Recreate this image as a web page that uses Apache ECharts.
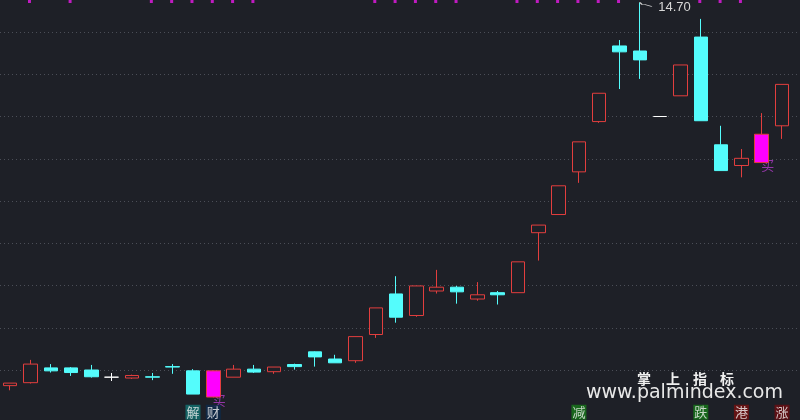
<!DOCTYPE html>
<html><head><meta charset="utf-8">
<script src="https://cdn.jsdelivr.net/npm/echarts@6/dist/echarts.min.js"></script>
<style>html,body{margin:0;padding:0;background:#1e2027;}#c{width:800px;height:420px;}</style>
</head><body><div id="c"></div>
<script>
const categories = ['1','2','3','4','5','6','7','8','9','10','11','12','13','14','15','16','17','18','19','20',
  '21','22','23','24','25','26','27','28','29','30','31','32','33','34','35','36','37','38','39'];
const opens  = [5.63,5.70,6.05,6.05,6.00,5.83,5.81,5.84,6.08,5.98,5.36,5.83,6.02,5.96,6.13,6.43,6.26,6.22,6.84,7.80,
  7.29,7.87,7.96,7.68,7.83,7.83,9.25,9.68,10.69,11.88,13.67,13.55,12.00,12.49,13.88,11.33,10.84,10.91,11.78];
const closes = [5.69,6.14,5.98,5.94,5.84,5.83,5.87,5.83,6.07,5.43,5.98,6.02,5.95,6.07,6.08,6.31,6.17,6.79,7.47,7.25,
  7.99,7.96,7.85,7.78,7.78,8.56,9.43,10.36,11.40,12.55,13.53,13.34,12.00,13.22,11.90,10.72,11.01,11.58,12.76];
const lows   = [5.52,5.68,5.94,5.86,5.82,5.74,5.79,5.76,5.91,5.43,5.35,5.83,5.93,5.91,6.01,6.08,6.17,6.17,6.76,7.12,
  7.26,7.81,7.57,7.64,7.55,7.83,8.59,9.68,10.43,11.85,12.65,12.89,12.00,12.49,11.90,10.72,10.56,10.91,11.47];
const highs  = [5.69,6.24,6.14,6.07,6.12,5.93,5.89,5.93,6.14,6.02,5.99,6.12,6.12,6.07,6.15,6.44,6.36,6.79,7.47,8.22,
  7.99,8.37,7.99,8.08,7.87,8.56,9.43,10.36,11.40,12.55,13.81,14.70,12.00,13.22,14.31,11.78,11.23,12.08,12.76];
const whiteDoji = [5, 32];
const buySignals = [10, 37];
const topMarkers = [1,3,7,8,9,10,11,12,18,19,20,21,22,25,26,27,28,29,30,34,35,36];
const tagIndex = [9, 10, 28, 34, 36, 38];
const tagText = ['解','财','减','跌','港','涨'];
const gridPrices = [6, 14];

const Y_MIN = 4.8166, Y_MAX = 14.7574;
const RED = '#e23e3e', CYAN = '#54fcfc', BG = '#1e2027', MAG = '#ff00ff';
const tagBg = {'解':'#127373','财':'#0d2a4c','减':'#17781a','跌':'#17781a','港':'#761010','涨':'#6c0c12'};

const candleData = categories.map((c, i) => {
  const item = { value: [opens[i], closes[i], lows[i], highs[i]] };
  if (whiteDoji.includes(i)) {
    item.itemStyle = { color: '#ffffff', color0: '#ffffff', borderColor: '#ffffff', borderColor0: '#ffffff', borderColorDoji: '#ffffff' };
  } else if (buySignals.includes(i)) {
    item.itemStyle = { color: MAG, color0: MAG, borderColor: RED, borderColor0: RED, borderColorDoji: RED };
  }
  return item;
});

const chart = echarts.init(document.getElementById('c'), null, { renderer: 'canvas' });
chart.setOption({
  backgroundColor: BG,
  animation: false,
  grid: [
    { left: -0.7, width: 792.9, top: 0, bottom: 0 },
    { left: 0, right: 0, top: 32, bottom: 50 }
  ],
  xAxis: [
    { type: 'category', data: categories, gridIndex: 0, show: false, boundaryGap: true },
    { type: 'value', gridIndex: 1, min: 0, max: 1, show: false }
  ],
  yAxis: [
    { type: 'value', gridIndex: 0, min: Y_MIN, max: Y_MAX, show: false, splitLine: { show: false } },
    { type: 'value', gridIndex: 1, min: gridPrices[0], max: gridPrices[1], interval: 1,
      axisLine: { show: false }, axisTick: { show: false }, axisLabel: { show: false },
      splitLine: { show: true, lineStyle: { color: '#4b4e57', width: 1, type: [1, 3] } } }
  ],
  series: [
    { type: 'line', xAxisIndex: 1, yAxisIndex: 1, data: [], silent: true },
    {
      type: 'scatter', xAxisIndex: 0, yAxisIndex: 0, z: 1, silent: true,
      data: buySignals.map(i => [i, lows[i]]),
      symbolSize: 1, itemStyle: { color: 'transparent' },
      label: { show: true, position: 'inside', formatter: '买', offset: [6, 3],
        color: '#b23cc8', fontSize: 13, fontFamily: 'Noto Sans CJK SC' }
    },
    {
      type: 'candlestick', xAxisIndex: 0, yAxisIndex: 0, z: 3,
      barWidth: 14, clip: false,
      data: candleData,
      itemStyle: { color: BG, color0: CYAN, borderColor: RED, borderColor0: CYAN, borderWidth: 1 },
      markPoint: {
        silent: true,
        data: [{ type: 'max', valueDim: 'highest' }],
        symbol: 'path://M0 0 L2 2 L5 2 L12 4',
        symbolSize: [12, 4], symbolKeepAspect: false, symbolOffset: [6, 2],
        itemStyle: { color: 'none', borderColor: '#d0d0d0', borderWidth: 1 },
        label: { show: true, position: 'right', distance: 2, offset: [0, 3],
          formatter: p => Number(p.value).toFixed(2), color: '#d8d8d8', fontSize: 13, fontFamily: 'Liberation Sans' }
      }
    },
    {
      type: 'scatter', xAxisIndex: 0, yAxisIndex: 0, z: 4, silent: true, clip: false,
      data: topMarkers.map(i => [i, Y_MAX - 0.035]),
      symbol: 'rect', symbolSize: [3, 3], symbolOffset: [-1, 0],
      itemStyle: { color: '#e81ae8' }
    },
    {
      type: 'scatter', xAxisIndex: 0, yAxisIndex: 0, z: 5, silent: true, clip: false,
      data: tagIndex.map((i, k) => ({
        value: [i, 5.0],
        label: { formatter: tagText[k], backgroundColor: tagBg[tagText[k]] }
      })),
      symbolSize: 1, itemStyle: { color: 'transparent' },
      label: { show: true, position: 'inside', color: '#f2f2f2', fontSize: 13, padding: [1, 1, 1, 1],
        fontFamily: 'Noto Sans CJK SC', lineHeight: 13 }
    }
  ],
  graphic: [
    { type: 'text', left: 637, top: 372, style: { text: '掌', fill: '#f0f0f0', font: 'bold 14px "Noto Sans CJK SC"' } },
    { type: 'text', left: 666, top: 372, style: { text: '上', fill: '#f0f0f0', font: 'bold 14px "Noto Sans CJK SC"' } },
    { type: 'text', left: 693, top: 372, style: { text: '指', fill: '#f0f0f0', font: 'bold 14px "Noto Sans CJK SC"' } },
    { type: 'text', left: 720, top: 372, style: { text: '标', fill: '#f0f0f0', font: 'bold 14px "Noto Sans CJK SC"' } },
    { type: 'text', left: 586, top: 384, style: { text: 'www.palmindex.com', fill: '#e8e8e8', font: '19px "DejaVu Sans"' } }
  ]
});
</script></body></html>
